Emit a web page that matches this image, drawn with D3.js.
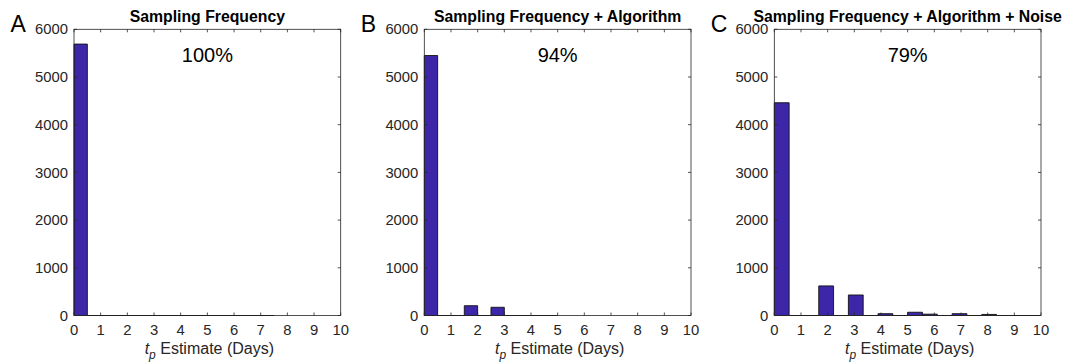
<!DOCTYPE html>
<html>
<head>
<meta charset="utf-8">
<script src="https://cdn.jsdelivr.net/npm/d3@7"></script>
<style>
  body { margin: 0; background: #fff; }
  svg text { font-family: "Liberation Sans", Arial, Helvetica, sans-serif; fill: #262626; }
</style>
</head>
<body>
<svg id="chart" width="1070" height="364"></svg>
<script>
(() => {
    // histogram data
    const titles = ["Sampling Frequency", "Sampling Frequency + Algorithm", "Sampling Frequency + Algorithm + Noise"];
    const letters = ["A", "B", "C"];
    const percents = ["100%", "94%", "79%"];

    // bin edges (days)
    const edgesA = [0, 0.5, 1, 1.5, 2, 2.5, 3, 3.5, 4, 4.5, 5, 5.5, 6, 6.5, 7, 7.5];
    const countsA = [5690, 0, 0, 0, 0, 0, 0, 0, 0, 0, 0, 0, 0, 0, 0];

    const edgesB = [0, 0.5, 1, 1.5, 2, 2.5, 3, 3.5, 4, 4.5, 5];
    const countsB = [5450, 0, 0, 205, 0, 172, 0, 0, 0, 0];

    const edgesC = [0, 0.556, 1.111, 1.667, 2.222, 2.778, 3.333, 3.889, 4.444, 5,
                    5.556, 6.111, 6.667, 7.222, 7.778, 8.333, 8.889, 9.444, 10];
    const countsC = [4460, 0, 0, 620, 0, 430, 0, 38, 0, 68, 28, 0, 38, 0, 22, 0, 0, 0];

    const xTicks = [0, 1, 2, 3, 4, 5, 6, 7, 8, 9, 10];
    const yTicks = [0, 1000, 2000, 3000, 4000, 5000, 6000];

    const panels = [
        { edges: edgesA, counts: countsA },
        { edges: edgesB, counts: countsB },
        { edges: edgesC, counts: countsC }
    ];

    const svg = d3.select("svg#chart");
    const plotLefts = [74, 424.3, 774.3];
    const plotW = 266.7;
    const top = 29.3, bottom = 315.5;
    const axisColor = "#262626";
    const barFill = "rgb(62,38,168)"; // parula first colour
    const tickLen = 3;

    panels.forEach((p, i) => {
        const left = plotLefts[i];
        const x = d3.scaleLinear().domain([0, 10]).range([left, left + plotW]);
        const y = d3.scaleLinear().domain([0, 6000]).range([bottom, top]);
        const g = svg.append("g");

        // bars (paths so zero-count bins still show their bottom edge)
        const bins = p.counts.map((c, k) => ({ x0: p.edges[k], x1: p.edges[k + 1], c }));
        g.append("g").selectAll("path")
            .data(bins)
            .enter()
            .append("path")
            .attr("d", d => `M${x(d.x0)},${y(0)}V${y(d.c)}H${x(d.x1)}V${y(0)}Z`)
            .attr("fill", barFill)
            .attr("stroke", "#111")
            .attr("stroke-width", 0.9);

        // box
        g.append("rect")
            .attr("x", left).attr("y", top)
            .attr("width", plotW).attr("height", bottom - top)
            .attr("fill", "none")
            .attr("stroke", axisColor)
            .attr("stroke-width", 0.8);

        // inner ticks, all four sides
        const xt = g.append("g");
        xTicks.forEach(t => {
            xt.append("line").attr("x1", x(t)).attr("x2", x(t)).attr("y1", bottom).attr("y2", bottom - tickLen)
                .attr("stroke", axisColor).attr("stroke-width", 0.8);
            xt.append("line").attr("x1", x(t)).attr("x2", x(t)).attr("y1", top).attr("y2", top + tickLen)
                .attr("stroke", axisColor).attr("stroke-width", 0.8);
        });
        yTicks.forEach(t => {
            xt.append("line").attr("x1", left).attr("x2", left + tickLen).attr("y1", y(t)).attr("y2", y(t))
                .attr("stroke", axisColor).attr("stroke-width", 0.8);
            xt.append("line").attr("x1", left + plotW).attr("x2", left + plotW - tickLen).attr("y1", y(t)).attr("y2", y(t))
                .attr("stroke", axisColor).attr("stroke-width", 0.8);
        });

        // tick labels
        g.append("g").selectAll("text")
            .data(xTicks)
            .enter()
            .append("text")
            .attr("x", d => x(d))
            .attr("y", bottom + 19.5)
            .attr("text-anchor", "middle")
            .attr("font-size", 14.8)
            .text(d => d);

        g.append("g").selectAll("text")
            .data(yTicks)
            .enter()
            .append("text")
            .attr("x", left - 6)
            .attr("y", d => y(d))
            .attr("dy", "0.35em")
            .attr("text-anchor", "end")
            .attr("font-size", 14.8)
            .text(d => d);

        const cx = left + plotW / 2;

        // title
        g.append("text")
            .attr("x", cx).attr("y", 22)
            .attr("text-anchor", "middle")
            .attr("font-size", 15.8)
            .attr("font-weight", "bold")
            .style("fill", "#000")
            .text(titles[i]);

        // panel letter
        g.append("text")
            .attr("x", left - 63.5).attr("y", 31.5)
            .attr("font-size", 23)
            .style("fill", "#000")
            .text(letters[i]);

        // percentage
        g.append("text")
            .attr("x", cx).attr("y", 62)
            .attr("text-anchor", "middle")
            .attr("font-size", 20)
            .style("fill", "#000")
            .text(percents[i]);

        // x label with subscript
        const xl = g.append("text")
            .attr("x", cx + 2).attr("y", 353.5)
            .attr("text-anchor", "middle")
            .attr("font-size", 16);
        xl.append("tspan").attr("font-style", "italic").text("t");
        xl.append("tspan").attr("font-style", "italic").attr("font-size", 12).attr("dy", 5.5).text("p");
        xl.append("tspan").attr("dy", -5.5).text(" Estimate (Days)");
    });
})();
</script>
</body>
</html>
